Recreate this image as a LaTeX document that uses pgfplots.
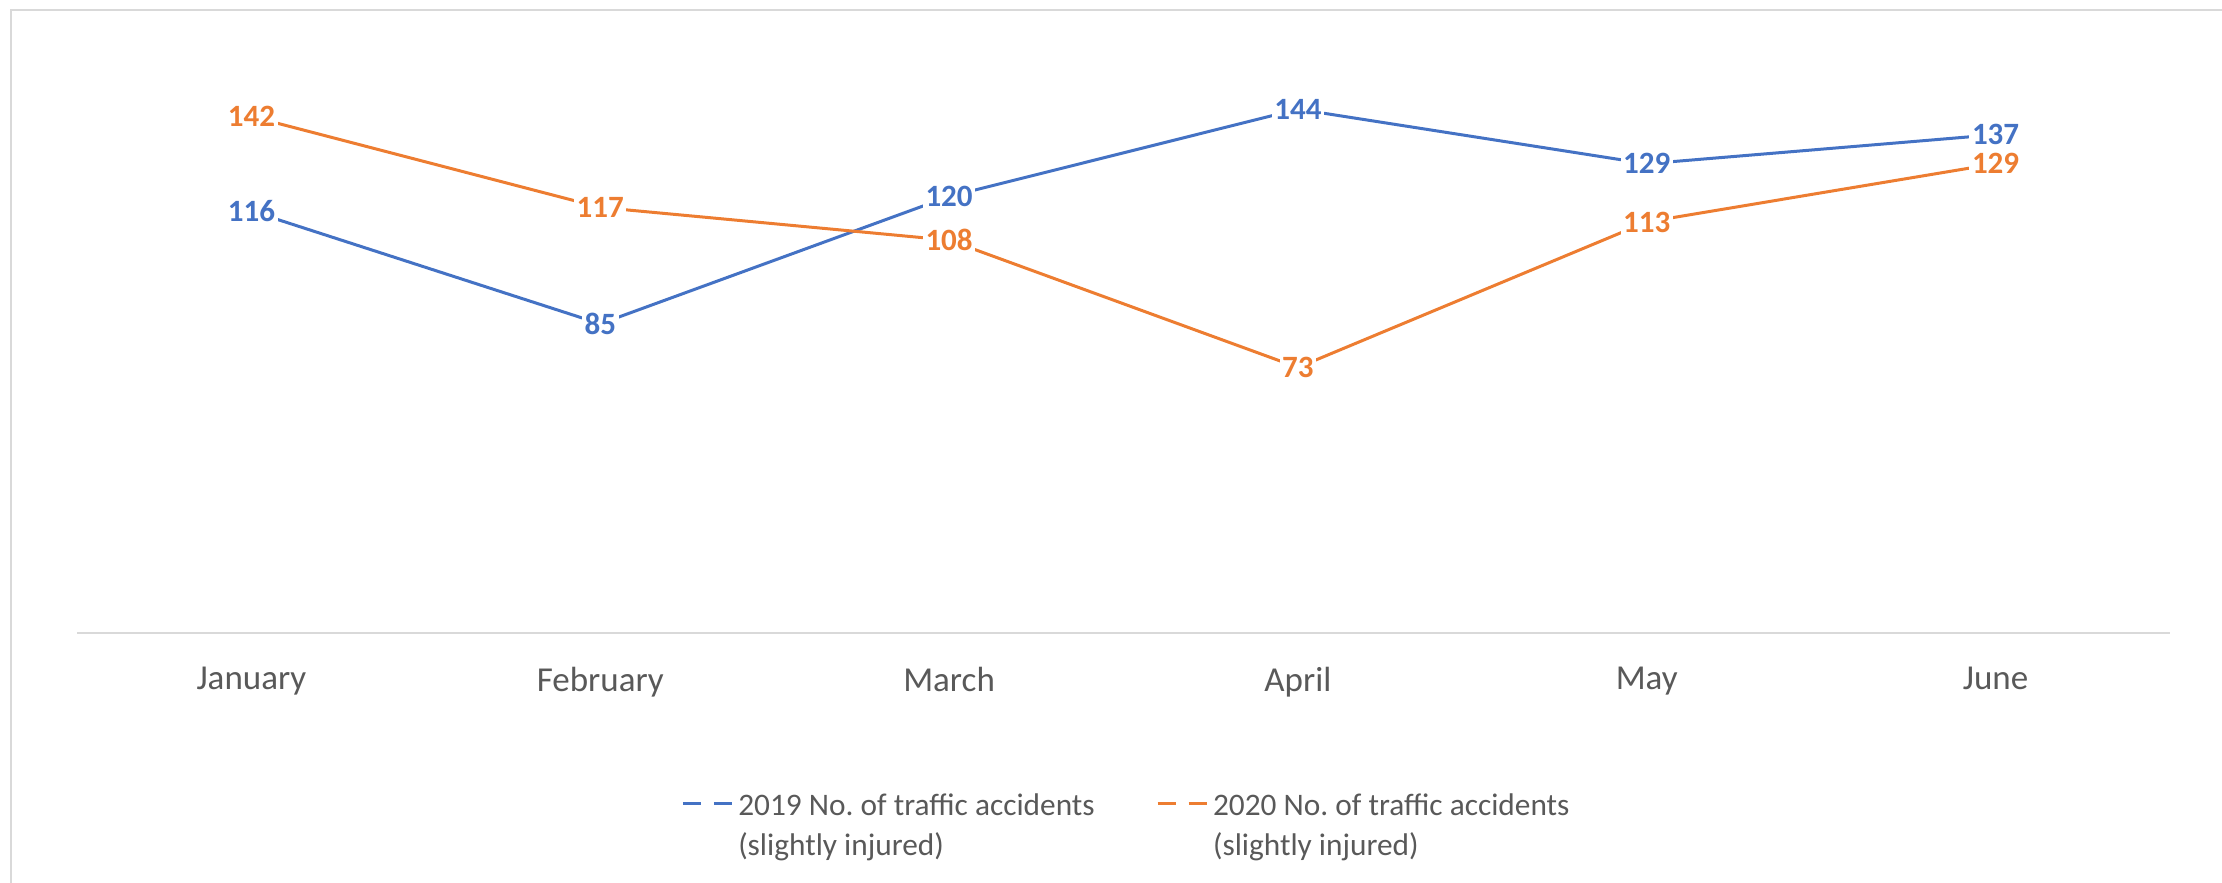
\documentclass[border=0pt]{standalone}
\usepackage{fontspec}
\setmainfont{Carlito}
\usepackage{pgfplots}
\pgfplotsset{compat=1.18}
\frenchspacing

\definecolor{c19}{HTML}{4472C4}
\definecolor{c20}{HTML}{ED7D31}
\definecolor{txtgray}{HTML}{595959}
\definecolor{linegray}{HTML}{D9D9D9}

\begin{document}
\begin{tikzpicture}
    % picture size: 2222 x 883 px at 0.3pt per px
    \useasboundingbox (0pt,0pt) rectangle (666.6pt,264.9pt);
    % chart area border (cropped on the right and bottom)
    \draw[linegray, line width=0.5pt] (3.3pt,-5pt) -- (3.3pt,261.9pt) -- (680pt,261.9pt);
    \begin{axis}[
        scale only axis,
        width=627.9pt, height=174.6pt,
        at={(23.1pt,75pt)}, anchor=south west,
        xmin=-0.5, xmax=5.5,
        ymin=0, ymax=160,
        axis y line=none,
        axis x line=bottom,
        x axis line style={draw=linegray, line width=0.6pt, -},
        xtick={0,1,2,3,4,5},
        xticklabels={January, February, March, April, May, June},
        major tick length=0pt,
        xticklabel style={font=\fontsize{10.5}{12}\selectfont, text=txtgray, inner sep=0pt, yshift=-10pt},
        /pgf/number format/assume math mode=true,
        clip=false,
        legend columns=2,
        legend style={at={(0.502,-0.256)}, anchor=north, draw=none, fill=none, inner sep=0pt,
            font=\fontsize{9.4}{12}\selectfont, text=txtgray,
            nodes={inner sep=1.4pt},
            cells={anchor=west},
            /tikz/every even column/.append style={column sep=17pt}},
        legend image code/.code={\draw[#1, dash pattern=on 5.5pt off 3.8pt] (0pt,0pt) -- (14.8pt,0pt);},
        every node near coord/.append style={font=\bfseries\fontsize{9.3}{10}\selectfont, anchor=center, fill=white, inner sep=0.8pt},
    ]
        \addplot[c19, line width=0.9pt, mark=none, nodes near coords,
            every node near coord/.append style={text=c19}]
            coordinates {(0,116) (1,85) (2,120) (3,144) (4,129) (5,137)};
        \addlegendentry{\begin{tabular}[t]{@{}l@{}}2019 No. of traffic accidents\\(slightly injured)\end{tabular}}
        \addplot[c20, line width=0.9pt, mark=none, nodes near coords,
            every node near coord/.append style={text=c20}]
            coordinates {(0,142) (1,117) (2,108) (3,73) (4,113) (5,129)};
        \addlegendentry{\begin{tabular}[t]{@{}l@{}}2020 No. of traffic accidents\\(slightly injured)\end{tabular}}
    \end{axis}
\end{tikzpicture}
\end{document}
